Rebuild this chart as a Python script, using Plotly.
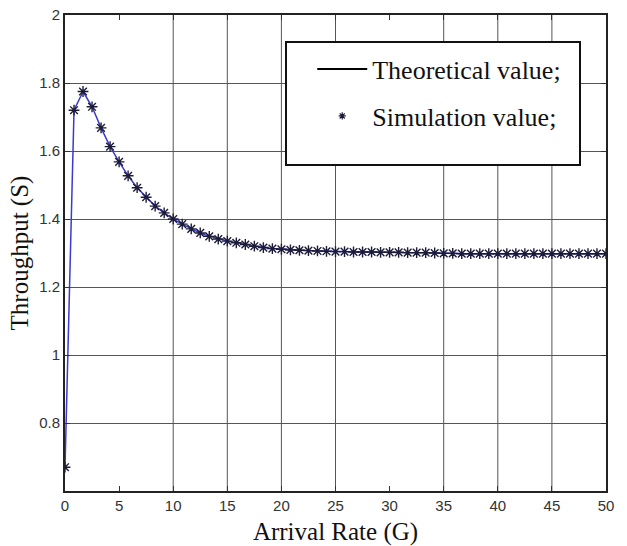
import plotly.graph_objects as go

# Arrival rate G: 61 samples from 0 to 50 (step 5/6)
arrival_rate = [i * 50 / 60 for i in range(61)]

throughput_theory = [
    0.670, 1.720, 1.775, 1.730, 1.668, 1.613, 1.568, 1.527, 1.492, 1.464,
    1.438, 1.418, 1.400, 1.385, 1.371, 1.359, 1.349, 1.341, 1.335, 1.330,
    1.325, 1.320, 1.316, 1.313, 1.311, 1.309, 1.308, 1.307, 1.306, 1.305,
    1.304, 1.304, 1.303, 1.303, 1.303, 1.302, 1.302, 1.302, 1.301, 1.301,
    1.301, 1.300, 1.299, 1.299, 1.298, 1.298, 1.298, 1.298, 1.298, 1.298,
    1.298, 1.298, 1.298, 1.298, 1.298, 1.298, 1.298, 1.298, 1.298, 1.298,
    1.298,
]
throughput_sim = list(throughput_theory)

x_ticks = [0, 5, 10, 15, 20, 25, 30, 35, 40, 45, 50]
x_grid = [10, 15, 20, 25, 35, 40, 45]   # visible vertical grid lines
y_ticks = [0.8, 1.0, 1.2, 1.4, 1.6, 1.8, 2.0]
y_tick_text = ["0.8", "1", "1.2", "1.4", "1.6", "1.8", "2"]

MARK = "#1c1c3a"
GRID = "#555"

fig = go.Figure()

fig.add_trace(go.Scatter(
    x=arrival_rate, y=throughput_theory, mode="lines",
    line=dict(color="#3a3ad0", width=1.5), showlegend=False, hoverinfo="skip",
))
fig.add_trace(go.Scatter(
    x=arrival_rate, y=throughput_sim, mode="markers",
    marker=dict(symbol="asterisk-open", size=9, color=MARK,
                line=dict(color=MARK, width=1.4)),
    showlegend=False,
))
# legend entries (black line, small star like the reference)
fig.add_trace(go.Scatter(
    x=[None], y=[None], mode="lines", name="Theoretical value;",
    line=dict(color="black", width=2), legendgroup="a",
))
fig.add_trace(go.Scatter(
    x=[None], y=[None], mode="markers", name="Simulation value;",
    marker=dict(symbol="asterisk-open", size=6, color=MARK,
                line=dict(color=MARK, width=1.2)),
    legendgroup="b",
))

axis_font = dict(family="Liberation Sans, Arial, sans-serif", size=15, color="#333")
title_font = dict(family="Liberation Serif, Times New Roman, serif", size=25, color="#111")

shapes = [dict(type="line", xref="x", yref="paper", x0=g, x1=g, y0=0, y1=1,
               line=dict(color=GRID, width=1), layer="below") for g in x_grid]
shapes.append(dict(type="rect", xref="paper", yref="paper",
                   x0=(286 - 65) / 541, x1=(580 - 65) / 541,
                   y0=1 - (165 - 15) / 476, y1=1 - (42 - 15) / 476,
                   line=dict(color="#111", width=2), fillcolor="white", layer="above"))

fig.update_layout(
    width=627, height=546,
    margin=dict(l=65, r=21, t=15, b=55),
    paper_bgcolor="white", plot_bgcolor="white",
    xaxis=dict(
        range=[0, 50], tickmode="array", tickvals=x_ticks,
        ticktext=[str(v) for v in x_ticks],
        showgrid=False, zeroline=False, automargin=False,
        ticks="inside", ticklen=5, tickcolor="#333",
        showline=True, linecolor="#222", linewidth=2, mirror="ticks",
        tickfont=axis_font,
        title=dict(text="Arrival Rate (G)", font=title_font, standoff=9),
    ),
    yaxis=dict(
        range=[0.6, 2.0], tickmode="array", tickvals=y_ticks, ticktext=y_tick_text,
        showgrid=True, gridcolor=GRID, gridwidth=1, zeroline=False, automargin=False,
        ticks="inside", ticklen=5, tickcolor="#333",
        showline=True, linecolor="#222", linewidth=2, mirror="ticks",
        tickfont=axis_font,
        title=dict(text="Throughput (S)", font=title_font, standoff=3),
    ),
    legend=dict(
        x=0.457, y=0.9355, xanchor="left", yanchor="top",
        bgcolor="rgba(0,0,0,0)", borderwidth=0,
        font=dict(family="Liberation Serif, Times New Roman, serif", size=26, color="#111"),
        tracegroupgap=10, itemwidth=50,
    ),
    shapes=shapes,
)

fig.write_html("out.html")
